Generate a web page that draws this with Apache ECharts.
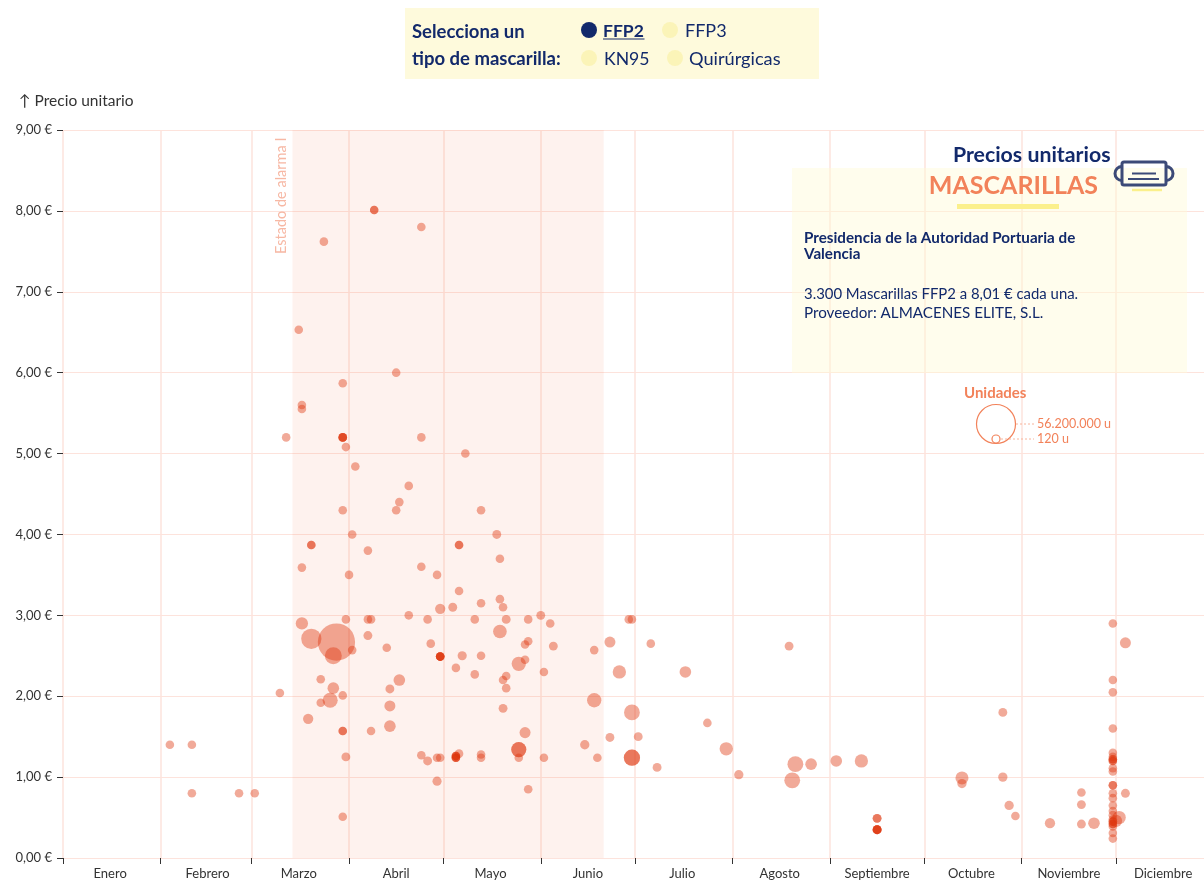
<!DOCTYPE html>
<html>
<head>
<meta charset="utf-8">
<title>Precios unitarios mascarillas</title>
<script src="https://cdn.jsdelivr.net/npm/echarts@6/dist/echarts.min.js"></script>
<style>
  html, body { margin: 0; padding: 0; background: #fff; }
  #main { width: 1204px; height: 892px; }
</style>
</head>
<body>
<div id="main"></div>
<script>
// days since 1 Jan 2020
const monthStarts = [0, 31, 60, 91, 121, 152, 182, 213, 244, 274, 305, 335];
const monthLabelDays = [15, 46, 75, 106, 136, 167, 197, 228, 259, 289, 320, 350];
const monthNames = ['Enero', 'Febrero', 'Marzo', 'Abril', 'Mayo', 'Junio', 'Julio', 'Agosto', 'Septiembre', 'Octubre', 'Noviembre', 'Diciembre'];
const alarmStart = 73;
const alarmEnd = 172;

const days = [
  99, 99, 114, 83, 75, 106, 89, 76, 76, 71,
  89, 89, 89, 114, 90, 128, 93, 110, 107, 106,
  89, 133, 138, 92, 79, 79, 126, 126, 97, 139,
  76, 114, 119, 91, 126, 139, 133, 140, 124, 120,
  110, 152, 90, 97, 98, 116, 131, 141, 148, 76,
  155, 139, 79, 87, 97, 117, 147, 148, 156, 86,
  92, 103, 120, 120, 120, 127, 133, 147, 145, 125,
  131, 153, 141, 140, 107, 82, 86, 104, 141, 89,
  69, 85, 82, 104, 140, 78, 89, 89, 98, 104,
  147, 145, 145, 126, 114, 116, 119, 120, 125, 125,
  125, 125, 133, 133, 145, 153, 90, 119, 148, 89,
  34, 41, 41, 56, 61, 169, 174, 180, 181, 187,
  231, 177, 198, 169, 181, 205, 174, 183, 166, 211,
  170, 181, 181, 189, 215, 233, 232, 238, 246, 254,
  259, 259, 259, 259, 259, 286, 286, 299, 299, 301,
  303, 314, 324, 324, 324, 328, 338, 338, 334, 334,
  334, 334, 334, 334, 334, 334, 334, 334, 334, 334,
  334, 334, 334, 334, 334, 334, 334, 334, 334, 334,
  334, 336, 335, 259, 259, 120, 120, 89, 125, 125,
  334, 334, 334, 334
];

const prices = [
  8.01, 8.01, 7.80, 7.62, 6.53, 6.00, 5.87, 5.60, 5.55, 5.20,
  5.20, 5.20, 5.20, 5.20, 5.08, 5.00, 4.84, 4.60, 4.40, 4.30,
  4.30, 4.30, 4.00, 4.00, 3.87, 3.87, 3.87, 3.87, 3.80, 3.70,
  3.59, 3.60, 3.50, 3.50, 3.30, 3.20, 3.15, 3.10, 3.10, 3.08,
  3.00, 3.00, 2.95, 2.95, 2.95, 2.95, 2.95, 2.95, 2.95, 2.90,
  2.90, 2.80, 2.71, 2.67, 2.75, 2.65, 2.64, 2.68, 2.62, 2.50,
  2.57, 2.60, 2.49, 2.49, 2.49, 2.50, 2.50, 2.45, 2.40, 2.35,
  2.27, 2.30, 2.25, 2.20, 2.20, 2.21, 2.10, 2.09, 2.10, 2.01,
  2.04, 1.95, 1.92, 1.88, 1.85, 1.72, 1.57, 1.57, 1.57, 1.63,
  1.55, 1.34, 1.34, 1.29, 1.27, 1.20, 1.24, 1.24, 1.26, 1.26,
  1.24, 1.24, 1.28, 1.24, 1.24, 1.24, 1.25, 0.95, 0.85, 0.51,
  1.40, 1.40, 0.80, 0.80, 0.80, 2.57, 2.67, 2.95, 2.95, 2.65,
  2.62, 2.30, 2.30, 1.95, 1.80, 1.67, 1.49, 1.50, 1.40, 1.35,
  1.24, 1.24, 1.24, 1.12, 1.03, 1.16, 0.96, 1.16, 1.20, 1.20,
  0.49, 0.49, 0.35, 0.35, 0.35, 0.99, 0.92, 1.00, 1.80, 0.65,
  0.52, 0.43, 0.81, 0.66, 0.42, 0.43, 2.66, 0.80, 2.90, 2.20,
  2.05, 1.60, 1.30, 1.25, 1.22, 1.20, 1.11, 1.07, 0.90, 0.90,
  0.80, 0.74, 0.65, 0.58, 0.53, 0.48, 0.45, 0.42, 0.39, 0.31,
  0.24, 0.50, 0.46, 0.35, 0.35, 2.49, 2.49, 5.20, 1.24, 1.26,
  1.22, 1.20, 0.45, 0.42
];

const units = [
  3300, 3300, 5000, 5000, 5000, 5000, 5000, 5000, 5000, 5000,
  5000, 5000, 5000, 5000, 5000, 5000, 5000, 5000, 5000, 5000,
  5000, 5000, 20000, 5000, 5000, 5000, 5000, 5000, 5000, 5000,
  5000, 5000, 5000, 5000, 5000, 5000, 5000, 5000, 20000, 230000,
  5000, 20000, 5000, 5000, 5000, 5000, 5000, 20000, 5000, 930000,
  5000, 1700000, 8400000, 49000000, 20000, 5000, 5000, 5000, 20000, 4400000,
  5000, 5000, 5000, 5000, 5000, 40000, 5000, 5000, 2100000, 5000,
  5000, 5000, 5000, 5000, 640000, 5000, 640000, 20000, 5000, 5000,
  5000, 2700000, 5000, 430000, 20000, 230000, 5000, 5000, 5000, 640000,
  430000, 2700000, 2700000, 5000, 5000, 20000, 5000, 5000, 5000, 5000,
  5000, 5000, 5000, 5000, 5000, 5000, 20000, 40000, 5000, 5000,
  5000, 5000, 5000, 5000, 5000, 5000, 430000, 5000, 5000, 5000,
  20000, 1460000, 640000, 2100000, 3300000, 5000, 20000, 20000, 60000, 1460000,
  5000, 3700000, 3700000, 20000, 60000, 3300000, 3300000, 640000, 640000, 1460000,
  20000, 20000, 20000, 20000, 20000, 1300000, 60000, 60000, 20000, 60000,
  5000, 230000, 5000, 20000, 20000, 640000, 430000, 20000, 5000, 5000,
  5000, 5000, 5000, 5000, 5000, 5000, 5000, 5000, 5000, 5000,
  5000, 5000, 5000, 5000, 5000, 5000, 5000, 5000, 5000, 5000,
  5000, 1460000, 930000, 20000, 20000, 5000, 5000, 5000, 5000, 5000,
  5000, 5000, 5000, 5000
];

const maxUnits = 56200000;
const navy = '#12296b';
const salmon = '#f2825a';

var dom = document.getElementById('main');
var chart = echarts.init(dom);

var points = days.map((d, i) => [d, prices[i], units[i]]);

function txt(x, y, text, size, color, weight, align) {
    return {
        type: 'text',
        x: x,
        y: y,
        z: 20,
        style: {
            text: text,
            fontFamily: 'Lato',
            fontSize: size,
            fontWeight: weight || 'normal',
            fill: color,
            align: align || 'left',
            verticalAlign: 'middle'
        }
    };
}

function dot(x, y, color) {
    return { type: 'circle', z: 20, shape: { cx: x, cy: y, r: 8 }, style: { fill: color } };
}

function seg(x1, y1, x2, y2, stroke, width, dash) {
    return {
        type: 'line',
        z: 20,
        shape: { x1: x1, y1: y1, x2: x2, y2: y2 },
        style: { stroke: stroke, lineWidth: width, lineDash: dash || null }
    };
}

function loop(cx, start, end) {
    return {
        type: 'arc',
        z: 20,
        shape: { cx: cx, cy: 173.5, r: 7, startAngle: start, endAngle: end },
        style: { stroke: '#3c4a78', lineWidth: 3, fill: null }
    };
}

var overlay = [
    // selector
    { type: 'rect', z: 19, shape: { x: 405, y: 8, width: 414, height: 71 }, style: { fill: '#fefadc' } },
    txt(412, 32, 'Selecciona un', 18.5, navy, 'bold'),
    txt(412, 59, 'tipo de mascarilla:', 18.5, navy, 'bold'),
    dot(589, 30, navy),
    txt(603, 31, 'FFP2', 17.5, navy, 'bold'),
    seg(603, 39, 644.5, 39, navy, 1.2),
    dot(670, 30, '#fbf4b8'),
    txt(685, 31, 'FFP3', 18, navy),
    dot(589, 58, '#fbf4b8'),
    txt(604, 59.5, 'KN95', 17.6, navy),
    dot(675, 58, '#fbf4b8'),
    txt(689, 59.5, 'Quirúrgicas', 18.2, navy),

    txt(19, 100.5, '↑ Precio unitario', 15.5, '#333'),

    // info panel
    { type: 'rect', z: 19, shape: { x: 792, y: 168, width: 395, height: 205 }, style: { fill: 'rgba(254,250,215,0.45)' } },
    txt(1110.5, 155.5, 'Precios unitarios', 21.3, navy, 'bold', 'right'),
    txt(1098, 186, 'MASCARILLAS', 25, salmon, 'bold', 'right'),
    { type: 'rect', z: 20, shape: { x: 957, y: 204, width: 102, height: 5 }, style: { fill: '#fbf08c' } },
    txt(804, 238, 'Presidencia de la Autoridad Portuaria de', 15.2, navy, 'bold'),
    txt(804, 254, 'Valencia', 15.2, navy, 'bold'),
    txt(804, 294, '3.300 Mascarillas FFP2 a 8,01 € cada una.', 14.9, navy),
    txt(804, 313, 'Proveedor: ALMACENES ELITE, S.L.', 15.2, navy),

    // mask icon
    { type: 'rect', z: 20, shape: { x: 1122, y: 162, width: 44, height: 23, r: 2 }, style: { fill: null, stroke: '#3c4a78', lineWidth: 3 } },
    loop(1122, Math.PI / 2, Math.PI * 3 / 2),
    loop(1166, -Math.PI / 2, Math.PI / 2),
    seg(1132, 173.5, 1156, 173.5, '#3c4a78', 2),
    seg(1128, 179, 1159, 179, '#3c4a78', 2),
    seg(1132, 190, 1162, 190, '#fbf08c', 2.5),

    // size legend
    txt(964, 393.5, 'Unidades', 15, salmon, 'bold'),
    { type: 'circle', z: 20, shape: { cx: 996, cy: 424, r: 19.5 }, style: { fill: null, stroke: salmon, lineWidth: 1.2 } },
    { type: 'circle', z: 20, shape: { cx: 996, cy: 439, r: 4 }, style: { fill: null, stroke: salmon, lineWidth: 1.2 } },
    seg(1016, 424, 1034, 424, '#f7b49c', 1, [2, 2]),
    seg(1001, 439, 1034, 439, '#f7b49c', 1, [2, 2]),
    txt(1037, 423.5, '56.200.000 u', 12.5, salmon),
    txt(1037, 439, '120 u', 12.5, salmon),

    // alarm label
    {
        type: 'text',
        x: 281,
        y: 254,
        rotation: Math.PI / 2,
        z: 20,
        style: {
            text: 'Estado de alarma I',
            fontFamily: 'Lato',
            fontSize: 14.5,
            fill: '#f7b8a4',
            align: 'left',
            verticalAlign: 'middle'
        }
    }
];

chart.setOption({
    animation: false,
    textStyle: { fontFamily: 'Lato' },
    grid: { left: 63, right: 0, top: 130, bottom: 34 },
    xAxis: {
        type: 'value',
        min: 0,
        max: 363,
        axisLine: { show: false },
        axisTick: { length: 6, lineStyle: { color: '#333' }, customValues: monthStarts },
        axisLabel: {
            customValues: monthLabelDays,
            margin: 9,
            fontSize: 13,
            color: '#333',
            formatter: (value) => monthNames[monthLabelDays.indexOf(value)]
        },
        splitLine: { lineStyle: { color: '#fde3dc', width: 1.5 } }
    },
    yAxis: {
        type: 'value',
        min: 0,
        max: 9,
        interval: 1,
        axisLine: { show: false },
        axisTick: { show: true, length: 6, lineStyle: { color: '#333' } },
        axisLabel: {
            margin: 11,
            fontSize: 13,
            color: '#333',
            formatter: (value) => value.toFixed(2).replace('.', ',') + ' €'
        },
        splitLine: { lineStyle: { color: '#fde3dc', width: 1.2 } }
    },
    series: [
        {
            name: 'Estado de alarma I',
            type: 'scatter',
            z: 1,
            silent: true,
            data: [],
            markArea: {
                silent: true,
                itemStyle: { color: 'rgba(238,100,60,0.085)' },
                data: [[{ xAxis: alarmStart }, { xAxis: alarmEnd }]]
            }
        },
        {
            name: 'FFP2',
            type: 'scatter',
            z: 2,
            data: points,
            symbolSize: (value) => 8.3 + 31 * Math.sqrt(value[2] / maxUnits),
            itemStyle: { color: '#de350c', opacity: 0.42, borderWidth: 0 },
            emphasis: { disabled: true }
        }
    ],
    graphic: { elements: overlay }
});
</script>
</body>
</html>
